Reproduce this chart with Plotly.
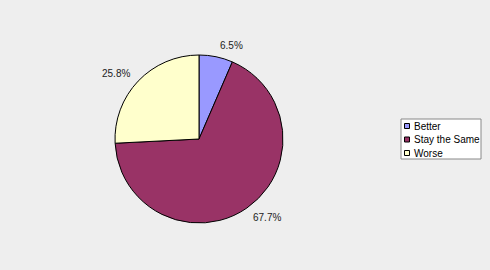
import math
import plotly.graph_objects as go

labels = ["Better", "Stay the Same", "Worse"]
values = [6.5, 67.7, 25.8]
colors = ["#9999FF", "#993366", "#FFFFCC"]

W, H = 490, 270
cx, cy, r = 199, 139, 84
FONT = "Liberation Sans, Arial, sans-serif"

fig = go.Figure(go.Pie(
    labels=labels, values=values, sort=False, direction="clockwise", rotation=0,
    marker=dict(colors=colors, line=dict(color="#000000", width=1)),
    textinfo="none", hoverinfo="label+percent",
    domain=dict(x=[(cx - r) / W, (cx + r) / W], y=[1 - (cy + r) / H, 1 - (cy - r) / H]),
    showlegend=False,
))

annotations = []
shapes = []
total = sum(values)
cum = 0.0
for lab, v in zip(labels, values):
    mid = (cum + v / 2) / total * 2 * math.pi
    cum += v
    s, c = math.sin(mid), math.cos(mid)
    px = cx + (r + 8) * s
    py = cy - (r + 11) * c
    annotations.append(dict(
        x=px / W, y=1 - py / H, xref="paper", yref="paper",
        text=f"{v / total * 100:.1f}%", showarrow=False,
        xanchor="left" if s >= 0 else "right", yanchor="middle",
        font=dict(family=FONT, size=10, color="#222222"),
    ))

# legend box
lx0, lx1, ly0, ly1 = 401, 481, 119, 159
shapes.append(dict(type="rect", xref="paper", yref="paper",
                   x0=lx0 / W, x1=lx1 / W, y0=1 - ly1 / H, y1=1 - ly0 / H,
                   fillcolor="#FFFFFF", line=dict(color="#888888", width=1), layer="below"))
row0, step = 126, 13.5
for i, (lab, col) in enumerate(zip(labels, colors)):
    yc = row0 + i * step
    shapes.append(dict(type="rect", xref="paper", yref="paper",
                       x0=404.5 / W, x1=409.5 / W, y0=1 - (yc + 2.5) / H, y1=1 - (yc - 2.5) / H,
                       fillcolor=col, line=dict(color="#000000", width=1)))
    annotations.append(dict(
        x=412 / W, y=1 - yc / H, xref="paper", yref="paper", text=lab, showarrow=False,
        xanchor="left", yanchor="middle", font=dict(family=FONT, size=10, color="#000000"),
    ))

fig.update_layout(
    width=W, height=H, margin=dict(l=0, r=0, t=0, b=0),
    paper_bgcolor="#EEEEEE", plot_bgcolor="#EEEEEE",
    font=dict(family=FONT, size=10, color="#000000"),
    annotations=annotations, shapes=shapes, showlegend=False,
)
fig.write_html("out.html")
